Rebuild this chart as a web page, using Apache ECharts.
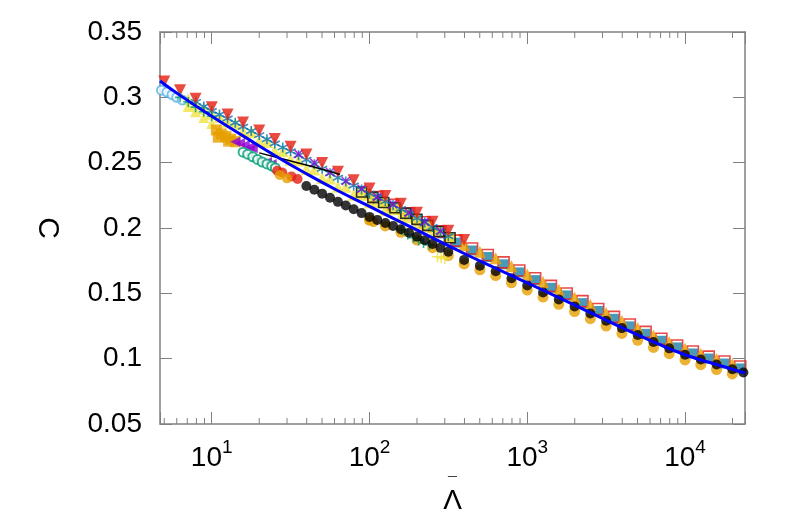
<!DOCTYPE html>
<html>
<head>
<meta charset="utf-8">
<script src="https://cdn.jsdelivr.net/npm/echarts@6/dist/echarts.min.js"></script>
<style>
html,body{margin:0;padding:0;background:#fff;}
#chart{width:797px;height:532px;}
</style>
</head>
<body>
<div id="chart"></div>
<script>
// ---- axis ranges / ticks ----
const xMin = 4.7, xMax = 24000;
const yMin = 0.05, yMax = 0.35, yStep = 0.05;
const minorTickValues = [5,6,7,8,9,20,30,40,50,60,70,80,90,200,300,400,500,600,700,800,900,2000,3000,4000,5000,6000,7000,8000,9000,20000];

// ---- fit line (blue) ----
const fitX = [4.7, 6.3, 10, 15.8, 25.1, 39.8, 63.1, 100, 158, 251, 398, 631, 1000, 1585, 2512, 3981, 6310, 10000, 15849, 24000];
const fitY = [0.3125, 0.3015, 0.2855, 0.2705, 0.2555, 0.2415, 0.2285, 0.2165, 0.2045, 0.1925, 0.1805, 0.1692, 0.158, 0.1467, 0.1353, 0.1237, 0.1128, 0.103, 0.0955, 0.089];

// ---- red down triangles ----
const redTriX = [5.0, 6.3, 7.9, 10, 12.6, 15.8, 20, 25.1, 31.6, 39.8, 50.1, 63.1, 79.4, 100, 126, 158, 200, 251, 316, 398];
const redTriY = [0.3121, 0.3055, 0.299, 0.2925, 0.2868, 0.2808, 0.2746, 0.2682, 0.2622, 0.2562, 0.2498, 0.243, 0.2365, 0.2302, 0.2244, 0.2185, 0.2117, 0.2048, 0.1979, 0.1909];

// ---- light blue open circles ----
const ltBlueX = [4.8, 5.2, 5.6, 6.0, 6.5];
const ltBlueY = [0.3055, 0.304, 0.302, 0.300, 0.298];

// ---- blue asterisks ----
const blueStarX = [7.94, 8.91, 10, 11.2, 12.6, 14.1, 15.8, 17.8, 20, 22.4, 25.1, 28.2, 31.6, 35.5, 39.8, 44.7, 50.1, 56.2, 63.1, 70.8, 79.4, 89.1, 100, 112, 126, 141, 158, 178, 200, 224, 251, 282, 316];
const blueStarY = [0.2965, 0.293, 0.2895, 0.2869, 0.2838, 0.2806, 0.2775, 0.2743, 0.2711, 0.2679, 0.2647, 0.2617, 0.2587, 0.2557, 0.2522, 0.2488, 0.2453, 0.2419, 0.2385, 0.2355, 0.2325, 0.2295, 0.2263, 0.2234, 0.2204, 0.2175, 0.2145, 0.2111, 0.2076, 0.2042, 0.2007, 0.1972, 0.1937];

// ---- yellow up triangles ----
const yelTriX = [6.31, 7.08, 7.94, 8.91, 10, 11.2, 12.6, 14.1, 15.8, 17.8, 20, 22.4, 25.1, 28.2, 31.6, 35.5, 39.8, 44.7, 50.1, 56.2, 63.1, 70.8, 79.4, 89.1, 100, 112, 126, 141, 158, 178, 200, 224, 251];
const yelTriY = [0.3015, 0.2985, 0.2945, 0.2915, 0.2875, 0.2849, 0.2813, 0.2796, 0.274, 0.2733, 0.2666, 0.2659, 0.2592, 0.2587, 0.2522, 0.2517, 0.2452, 0.2448, 0.2383, 0.2379, 0.2315, 0.2315, 0.2255, 0.2255, 0.2195, 0.2198, 0.214, 0.2143, 0.2085, 0.2083, 0.202, 0.2018, 0.1955];

// ---- yellow triangles below the fit at small Λ ----
const yelLowX = [7.1, 7.9, 8.9, 10, 11.2, 12.6];
const yelLowY = [0.293, 0.289, 0.2845, 0.280, 0.2755, 0.271];

// ---- orange squares (cluster) ----
const orSqX = [10.7, 11.5, 12.3, 13.2, 14.1, 11.0, 12.8];
const orSqY = [0.275, 0.272, 0.270, 0.268, 0.266, 0.2695, 0.2665];

// ---- purple left triangles ----
const purTriX = [14.1, 15.1, 16.2, 17.4, 18.2, 22.4, 24.0];
const purTriY = [0.266, 0.265, 0.2635, 0.262, 0.261, 0.2505, 0.249];

// ---- green open circles ----
const grnCircX = [15.8, 16.9, 18.2, 19.5, 20.9, 22.4, 24.0, 25.3];
const grnCircY = [0.258, 0.2565, 0.2545, 0.2525, 0.2505, 0.249, 0.2475, 0.246];

// ---- red and orange circles below the fit ----
const redCircX = [26, 28, 32, 35];
const redCircY = [0.2438, 0.2425, 0.2395, 0.2375];
const orLowX = [27, 30, 100, 106];
const orLowY = [0.2405, 0.238, 0.2055, 0.2045];

// ---- black circles ----
const blackX = [39.8, 44.7, 50.1, 56.2, 63.1, 70.8, 79.4, 89.1, 100, 112, 126, 141, 158, 178, 200, 224, 251, 282, 316, 398, 501, 631, 794, 1000, 1259, 1585, 1995, 2512, 3162, 3981, 5012, 6310, 7943, 10000, 12589, 15849, 19953, 23442];
const blackY = [0.2322, 0.2293, 0.2263, 0.2232, 0.22, 0.2172, 0.2143, 0.2114, 0.2085, 0.2062, 0.2038, 0.2015, 0.1991, 0.1963, 0.1934, 0.1906, 0.1877, 0.1848, 0.1819, 0.1756, 0.1712, 0.1669, 0.1615, 0.156, 0.1507, 0.1453, 0.1399, 0.1345, 0.129, 0.1234, 0.1181, 0.1127, 0.1079, 0.103, 0.0993, 0.0955, 0.0919, 0.0894];

// ---- black thin line ----
const blkLineX = [20, 30, 45, 65];
const blkLineY = [0.2575, 0.252, 0.2465, 0.241];

// ---- orange up triangles ----
const orTriX = [100, 126, 158, 200, 251, 316, 398, 501, 631, 794, 1000, 1259, 1585, 1995, 2512, 3162, 3981, 5012, 6310, 7943, 10000, 12589, 15849, 19953];
const orTriY = [0.2265, 0.2206, 0.2147, 0.2078, 0.2009, 0.1939, 0.1869, 0.1818, 0.1768, 0.1707, 0.1645, 0.1587, 0.1528, 0.1469, 0.141, 0.135, 0.129, 0.1234, 0.1177, 0.1126, 0.1075, 0.1036, 0.0997, 0.0959];

// ---- red open squares / teal squares ----
const sqX = [112, 141, 178, 224, 282, 355, 447, 562, 708, 891, 1122, 1413, 1778, 2239, 2818, 3548, 4467, 5623, 7079, 8913, 11220, 14125, 17783, 22387];
const redSqY = [0.2236, 0.2177, 0.2113, 0.2044, 0.1974, 0.1903, 0.1843, 0.1793, 0.1737, 0.1675, 0.1616, 0.1557, 0.1499, 0.144, 0.138, 0.132, 0.1262, 0.1205, 0.1152, 0.1101, 0.1055, 0.1016, 0.0978, 0.094];
const tealSqY = [0.2221, 0.2162, 0.2098, 0.2029, 0.1959, 0.1888, 0.1828, 0.1778, 0.1722, 0.166, 0.1601, 0.1542, 0.1484, 0.1425, 0.1365, 0.1305, 0.1247, 0.119, 0.1137, 0.1086, 0.104, 0.1001, 0.0963, 0.0925];

// ---- yellow squares with black edge ----
const yelSqX = [89.1, 105, 123, 145, 170, 200, 234, 275, 324];
const yelSqY = [0.2275, 0.2234, 0.2195, 0.2155, 0.2113, 0.2066, 0.202, 0.1973, 0.1925];

// ---- orange circles ----
const orCircX = [100, 126, 158, 200, 251, 316, 398, 501, 631, 794, 1000, 1259, 1585, 1995, 2512, 3162, 3981, 5012, 6310, 7943, 10000, 12589, 15849, 19953];
const orCircY = [0.2065, 0.2016, 0.1967, 0.1908, 0.1849, 0.1789, 0.1725, 0.168, 0.1636, 0.1581, 0.1525, 0.1471, 0.1416, 0.1361, 0.1306, 0.125, 0.1193, 0.114, 0.1086, 0.1038, 0.099, 0.0954, 0.0917, 0.0883];

// ---- teal crosses ----
const tealCrX = [6.3, 7.1, 7.9, 8.9, 10, 160, 175, 190, 205, 220, 240];
const tealCrY = [0.300, 0.2965, 0.2925, 0.289, 0.2855, 0.1985, 0.195, 0.1925, 0.1905, 0.1885, 0.187];

// ---- purple crosses ----
const purCrX = [35.5, 44.7, 56.2, 70.8, 89.1, 112, 141, 178, 224, 282];
const purCrY = [0.2567, 0.2498, 0.2429, 0.236, 0.23, 0.2238, 0.2183, 0.2118, 0.2048, 0.1977];

// ---- yellow plus ----
const yelPlX = [270, 285, 300];
const yelPlY = [0.178, 0.1775, 0.1765];

const zip = (xs, ys) => xs.map((x, i) => [x, ys[i]]);
const FONT = 'Liberation Sans, Arial, sans-serif';
const GRAY = '#808080';
const PLUS = 'path://M5,0L5,10M0,5L10,5';
const XCROSS = 'path://M0,0L10,10M0,10L10,0';
const ASTER = 'path://M5,0L5,10M0.7,2.5L9.3,7.5M0.7,7.5L9.3,2.5';

function scatter(name, xs, ys, symbol, size, color, extra) {
  return Object.assign({
    type: 'scatter', name: name, data: zip(xs, ys), symbol: symbol, symbolSize: size,
    itemStyle: { color: color }, silent: true, animation: false
  }, extra || {});
}
function strokeSym(name, xs, ys, symbol, size, color) {
  return {
    type: 'scatter', name: name, data: zip(xs, ys), symbol: symbol, symbolSize: size,
    itemStyle: { color: 'rgba(0,0,0,0)', borderColor: color, borderWidth: 1.6 }, silent: true, animation: false
  };
}

const chart = echarts.init(document.getElementById('chart'), null, { renderer: 'canvas' });

const option = {
  backgroundColor: '#fff',
  animation: false,
  grid: { left: 160, right: 52, top: 32, bottom: 108, containLabel: false },
  xAxis: [
    {
      type: 'log', logBase: 10, min: xMin, max: xMax, position: 'bottom',
      name: '{m|\u00AF}\n{l|Λ}', nameLocation: 'middle', nameGap: 48,
      nameTextStyle: {
        fontFamily: FONT, color: '#000', align: 'center',
        rich: {
          m: { fontFamily: FONT, fontSize: 16, lineHeight: 2, color: '#000', align: 'center' },
          l: { fontFamily: FONT, fontSize: 28, lineHeight: 30, color: '#000', align: 'center' }
        }
      },
      axisLine: { show: true, lineStyle: { color: GRAY, width: 1.5 } },
      axisTick: { show: true, inside: true, length: 12, lineStyle: { color: GRAY, width: 1 } },
      splitLine: { show: false },
      minorTick: { show: false },
      axisLabel: {
        margin: 14,
        formatter: function (v) {
          const e = Math.log10(v);
          if (Math.abs(e - Math.round(e)) < 1e-6) return '{b|10}{s|' + Math.round(e) + '}';
          return '';
        },
        rich: {
          b: { fontFamily: FONT, fontSize: 28, color: '#000', verticalAlign: 'bottom', lineHeight: 34 },
          s: { fontFamily: FONT, fontSize: 19, color: '#000', verticalAlign: 'top', lineHeight: 20 }
        }
      }
    },
    {
      type: 'log', logBase: 10, min: xMin, max: xMax, position: 'top',
      axisLine: { show: true, lineStyle: { color: GRAY, width: 1.5 } },
      axisTick: { show: true, inside: true, length: 12, lineStyle: { color: GRAY, width: 1 } },
      axisLabel: { show: false }, splitLine: { show: false }
    }
  ],
  yAxis: [
    {
      type: 'value', min: yMin, max: yMax, interval: yStep, position: 'left',
      name: 'C', nameLocation: 'middle', nameGap: 98, nameRotate: -90,
      nameTextStyle: { fontFamily: FONT, fontSize: 30, color: '#000' },
      axisLine: { show: true, lineStyle: { color: GRAY, width: 1.5 } },
      axisTick: { show: true, inside: true, length: 12, lineStyle: { color: GRAY, width: 1 } },
      splitLine: { show: false },
      axisLabel: { margin: 18, fontFamily: FONT, fontSize: 28, color: '#000' }
    },
    {
      type: 'value', min: yMin, max: yMax, interval: yStep, position: 'right',
      axisLine: { show: true, lineStyle: { color: GRAY, width: 1.5 } },
      axisTick: { show: true, inside: true, length: 12, lineStyle: { color: GRAY, width: 1 } },
      axisLabel: { show: false }, splitLine: { show: false }
    }
  ],
  series: [
    {
      type: 'custom', name: 'minorTicks', silent: true, z: 1,
      data: minorTickValues.map(v => [v, 0.2]),
      renderItem: function (params, api) {
        const x = api.coord([api.value(0), 0.2])[0];
        const cs = params.coordSys;
        return {
          type: 'group', children: [
            { type: 'line', shape: { x1: x, y1: cs.y + cs.height, x2: x, y2: cs.y + cs.height - 6 }, style: { stroke: GRAY, lineWidth: 1 } },
            { type: 'line', shape: { x1: x, y1: cs.y, x2: x, y2: cs.y + 6 }, style: { stroke: GRAY, lineWidth: 1 } }
          ]
        };
      }
    },
    scatter('orCirc', orCircX, orCircY, 'circle', 11, '#e69f00'),
    scatter('tealSq', sqX, tealSqY, 'rect', 10, '#1b7fa6'),
    strokeSym('redSq', sqX, redSqY, 'rect', 11, '#e41a1c'),
    scatter('orTri', orTriX, orTriY, 'triangle', 12, '#e69f00'),
    scatter('yelTri', yelTriX, yelTriY, 'triangle', 12, '#f0e442'),
    scatter('yelLow', yelLowX, yelLowY, 'triangle', 11, '#f0e442'),
    scatter('yelSq', yelSqX, yelSqY, 'rect', 10, '#f0e442', { itemStyle: { color: '#f0e442', borderColor: '#000', borderWidth: 1.6 } }),
    strokeSym('blueStar', blueStarX, blueStarY, ASTER, 10, '#0072b2'),
    strokeSym('purCr', purCrX, purCrY, XCROSS, 8, '#9400d3'),
    scatter('redTri', redTriX, redTriY, 'triangle', 12, '#e51e10', { symbolRotate: 180 }),
    scatter('orSq', orSqX, orSqY, 'rect', 11, '#e69f00'),
    scatter('purTri', purTriX, purTriY, 'triangle', 10, '#9400d3', { symbolRotate: 90 }),
    scatter('ltBlue', ltBlueX, ltBlueY, 'emptyCircle', 9, '#56b4e9', { itemStyle: { color: '#56b4e9', borderWidth: 1.6 } }),
    scatter('grnCirc', grnCircX, grnCircY, 'emptyCircle', 9, '#009e73', { itemStyle: { color: '#009e73', borderWidth: 1.6 } }),
    scatter('redCirc', redCircX, redCircY, 'circle', 10, '#e51e10'),
    scatter('orLow', orLowX, orLowY, 'circle', 10, '#e69f00'),
    strokeSym('tealCr', tealCrX, tealCrY, PLUS, 10, '#009e73'),
    strokeSym('yelPl', yelPlX, yelPlY, PLUS, 11, '#f0e442'),
    {
      type: 'line', name: 'blkLine', data: zip(blkLineX, blkLineY), showSymbol: false, smooth: true,
      lineStyle: { color: '#000', width: 1.5 }, silent: true, animation: false
    },
    scatter('black', blackX, blackY, 'circle', 10, '#000'),
    {
      type: 'line', name: 'fit', data: zip(fitX, fitY), showSymbol: false, smooth: true, z: 5,
      lineStyle: { color: '#0000ff', width: 3 }, silent: true, animation: false
    }
  ]
};
chart.setOption(option);
</script>
</body>
</html>
